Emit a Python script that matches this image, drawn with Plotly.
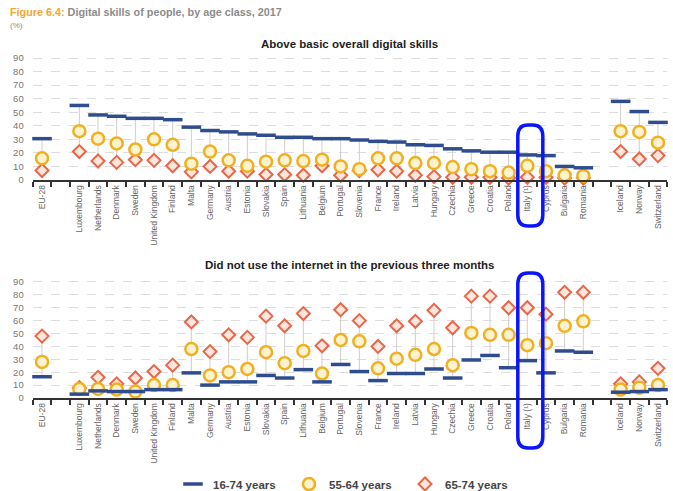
import plotly.graph_objects as go

# ---------------- data ----------------
eu = ["EU-28"]
member_states = ["Luxembourg", "Netherlands", "Denmark", "Sweden", "United Kingdom", "Finland",
                 "Malta", "Germany", "Austria", "Estonia", "Slovakia", "Spain", "Lithuania",
                 "Belgium", "Portugal", "Slovenia", "France", "Ireland", "Latvia", "Hungary",
                 "Czechia", "Greece", "Croatia", "Poland", "Italy (¹)", "Cyprus", "Bulgaria", "Romania"]
efta = ["Iceland", "Norway", "Switzerland"]

# Above basic overall digital skills (%)
skills_16_74 = [30.5, 55, 48, 47, 45.5, 45.5, 44.5, 39, 36.5, 35.5, 34, 33, 31.5, 31.5, 30.5, 30.5,
                29.5, 28.5, 28, 26, 25.5, 23, 21.5, 20.5, 20.5, 18.5, 18, 10, 9, 58, 50.5, 42.5]
skills_55_64 = [16, 36, 30.5, 27, 22.5, 30, 26, 12, 21, 14.5, 10.5, 13.5, 14.5, 14, 15, 10,
                8, 16, 16, 12.5, 12.5, 9.5, 8, 6.5, 5.5, 10.5, 6.5, 3.5, 3, 36, 35.5, 27.5]
skills_65_74 = [7, 21, 14, 13, 15, 14.5, 10.5, 6, 10, 6.5, 6.5, 4, 4, 3.5, 10.5, 3.5,
                7, 7.5, 6.5, 3.5, 2.5, 2, 2, 2, 1.5, 2, 2, 1.5, 1.5, 21, 15.5, 18]

# Did not use the internet in the previous three months (%)
nouse_16_74 = [16.5, 3, 5.5, 5, 5, 6.5, 6.5, 19.5, 10, 12.5, 12.5, 17.5, 15.5, 22, 12.5, 26,
               20.5, 13.5, 19, 19, 22.5, 15.5, 29.5, 33, 23.5, 29, 19.5, 36.5, 35.5, 4.5, 5, 6.5]
nouse_55_64 = [28, 7, 7, 6.5, 5, 10, 10, 38, 17.5, 20, 22.5, 35.5, 27, 36.5, 19, 45,
               44, 23, 30.5, 33.5, 38, 25.5, 50.5, 49, 49, 41, 42.5, 56, 59.5, 6.5, 8, 10]
nouse_65_74 = [48, 8, 16, 11, 15.5, 20.5, 25.5, 59, 36, 49, 47, 63.5, 56, 65.5, 40.5, 68.5,
               60, 40, 56, 59.5, 68, 54.5, 79, 79, 70, 70, 65, 82, 82, 11, 12.5, 23]

y_ticks = [0, 10, 20, 30, 40, 50, 60, 70, 80, 90]

series_names = ["16-74 years", "55-64 years", "65-74 years"]
title_prefix = "Figure 6.4:"
title_text = " Digital skills of people, by age class, 2017"
panel_titles = ["Above basic overall digital skills",
                "Did not use the internet in the previous three months"]

# ---------------- positions (groups separated by an empty slot) ----------------
groups = [eu, member_states, efta]
labels, xpos = [], []
slot = 0
for g in groups:
    for name in g:
        labels.append(name)
        xpos.append(slot)
        slot += 1
    slot += 1
x_max = slot - 2

FONT = "Liberation Sans, Arial, sans-serif"
BLUE = "#2f4d8e"
YEL_LINE = "#f0b022"
YEL_FILL = "#fff3cf"
RED_LINE = "#e8664a"
RED_FILL = "#fde6dc"

fig = go.Figure()


def add_panel(vals, xa, ya, show_legend):
    a, b, c = vals
    cx, cy = [], []
    for x, p, q, r in zip(xpos, a, b, c):
        cx += [x, x, None]
        cy += [max(p, q, r), min(p, q, r), None]
    fig.add_trace(go.Scatter(x=cx, y=cy, mode="lines", xaxis=xa, yaxis=ya,
                             line=dict(color="#d3cdc9", width=1), hoverinfo="skip",
                             showlegend=False, cliponaxis=False))
    fig.add_trace(go.Scatter(x=xpos, y=c, mode="markers", name=series_names[2], xaxis=xa, yaxis=ya,
                             marker=dict(symbol="diamond", size=10, color=RED_FILL,
                                         line=dict(color=RED_LINE, width=2)),
                             showlegend=show_legend, legendrank=3, cliponaxis=False))
    fig.add_trace(go.Scatter(x=xpos, y=b, mode="markers", name=series_names[1], xaxis=xa, yaxis=ya,
                             marker=dict(symbol="circle", size=12, color=YEL_FILL,
                                         line=dict(color=YEL_LINE, width=2.5)),
                             showlegend=show_legend, legendrank=2, cliponaxis=False))
    fig.add_trace(go.Scatter(x=xpos, y=a, mode="markers", name=series_names[0], xaxis=xa, yaxis=ya,
                             marker=dict(symbol="line-ew", size=14,
                                         line=dict(color=BLUE, width=3.5)),
                             showlegend=show_legend, legendrank=1, cliponaxis=False))


add_panel((skills_16_74, skills_55_64, skills_65_74), "x", "y", True)
add_panel((nouse_16_74, nouse_55_64, nouse_65_74), "x2", "y2", False)

W, H = 673, 491
x_dom = [32.7 / W, 667.3 / W]

xaxis_common = dict(
    domain=x_dom, range=[-0.5, x_max + 0.5], tickmode="array", tickvals=xpos, ticktext=labels,
    tickangle=-90, ticks="", showgrid=False, zeroline=False, showline=True,
    linecolor="#333333", linewidth=1.5, tickfont=dict(size=8.5, color="#666666", family=FONT),
    minor=dict(tick0=-0.5, dtick=1, ticks="outside", ticklen=5, tickcolor="#333333", tickwidth=1.5,
               showgrid=False),
    automargin=False, fixedrange=True,
)
yaxis_common = dict(
    range=[0, 92], tickmode="array", tickvals=y_ticks, showgrid=True, gridcolor="#dddddd",
    griddash="dash", gridwidth=1, zeroline=False, showline=False, ticks="",
    ticklabelstandoff=8,
    tickfont=dict(size=9.5, color="#777777", family=FONT), automargin=False, fixedrange=True,
)

fig.update_layout(
    width=W, height=H, margin=dict(l=0, r=0, t=0, b=0, autoexpand=False),
    paper_bgcolor="white", plot_bgcolor="white",
    font=dict(family=FONT, color="#555555"),
    xaxis=dict(xaxis_common, anchor="y"),
    yaxis=dict(yaxis_common, domain=[1 - 180 / H, 1 - 55.3 / H], anchor="x"),
    xaxis2=dict(xaxis_common, anchor="y2"),
    yaxis2=dict(yaxis_common, domain=[1 - 398 / H, 1 - 279.4 / H], anchor="x2"),
    legend=dict(orientation="h", x=173 / W, xanchor="left", y=1 - 484 / H, yanchor="middle",
                font=dict(size=11.5, color="#444444", family=FONT, weight="bold"), itemwidth=30,
                entrywidth=71, entrywidthmode="pixels",
                bgcolor="rgba(0,0,0,0)"),
    showlegend=True,
)

# titles
fig.add_annotation(xref="paper", yref="paper", x=8 / W, y=1 - 12 / H, xanchor="left", yanchor="middle",
                   showarrow=False,
                   text=f"<b><span style='color:#f2a72e'>{title_prefix}</span>{title_text}</b>",
                   font=dict(size=10.8, color="#8c8c8c", family=FONT))
fig.add_annotation(xref="paper", yref="paper", x=8 / W, y=1 - 26 / H, xanchor="left", yanchor="middle",
                   showarrow=False, text="(%)", font=dict(size=8, color="#8c8c8c", family=FONT))
for t, py in zip(panel_titles, [44, 265]):
    fig.add_annotation(xref="paper", yref="paper", x=sum(x_dom) / 2, y=1 - py / H,
                       xanchor="center", yanchor="middle", showarrow=False,
                       text=f"<b>{t}</b>", font=dict(size=11.5, color="#222222", family=FONT))

# blue highlight boxes around Italy
it = xpos[labels.index("Italy (¹)")]
x0, x1 = it - 0.51, it + 0.83
rx = 0.55


def rounded(xr, y_top_px, y_bot_px):
    yt, yb = 1 - y_top_px / H, 1 - y_bot_px / H
    ry = 11 / H
    path = (f"M {x0 + rx} {yt} L {x1 - rx} {yt} Q {x1} {yt} {x1} {yt - ry} "
            f"L {x1} {yb + ry} Q {x1} {yb} {x1 - rx} {yb} "
            f"L {x0 + rx} {yb} Q {x0} {yb} {x0} {yb + ry} "
            f"L {x0} {yt - ry} Q {x0} {yt} {x0 + rx} {yt} Z")
    fig.add_shape(type="path", path=path, xref=xr, yref="paper",
                  line=dict(color="#0a14ff", width=3.5), layer="above")


rounded("x", 125, 226)
rounded("x2", 273, 448)

fig.write_html("out.html", config={"displayModeBar": False},
               post_script="document.body.style.margin='0px';")
